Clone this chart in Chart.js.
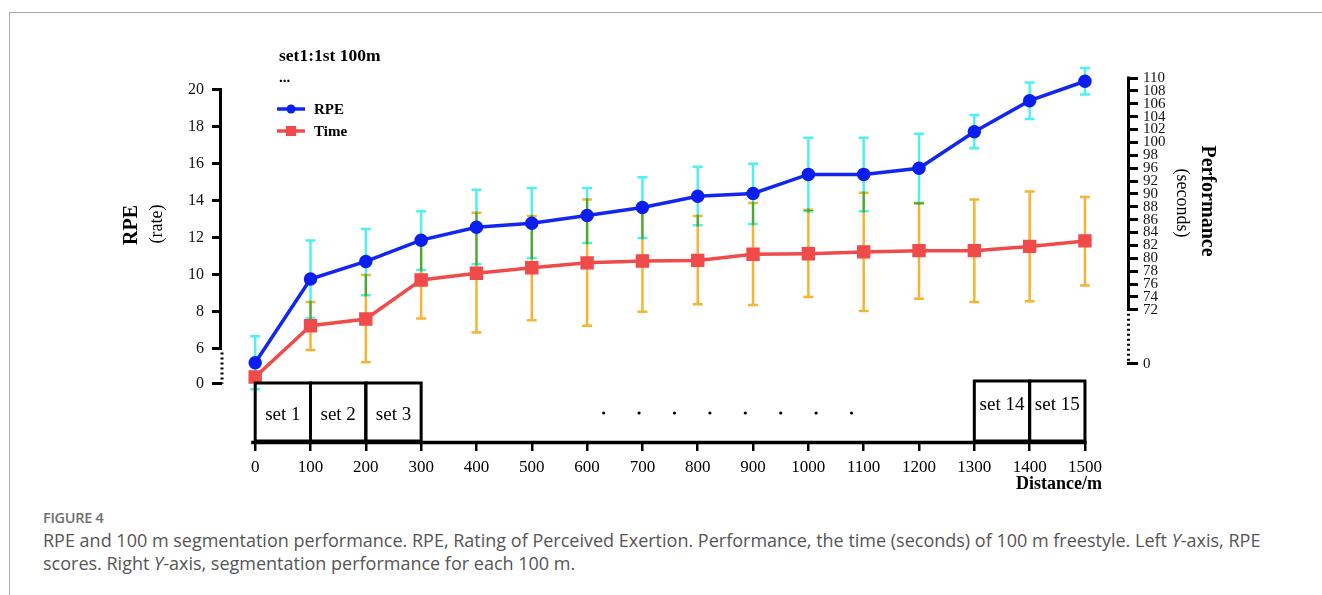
<!DOCTYPE html>
<html>
<head>
<meta charset="utf-8">
<script src="https://cdn.jsdelivr.net/npm/chart.js@4.4.1/dist/chart.umd.min.js"></script>
<style>
  html, body { margin: 0; padding: 0; background: #fff; }
  body { width: 1322px; height: 595px; position: relative; overflow: hidden; }
  #frame { position: absolute; left: 9px; top: 12px; width: 1320px; height: 600px;
           border-left: 1px solid #a8a8a8; border-top: 1px solid #a8a8a8; }
  #wrap { position: absolute; left: 0; top: 0; width: 1322px; height: 500px; }
  #figno { position: absolute; left: 43px; top: 508px; font-family: "Open Sans", sans-serif;
           font-size: 14.5px; font-weight: 600; color: #707070; letter-spacing: -0.3px; }
  #caption { position: absolute; left: 43px; top: 529px; font-family: "Open Sans", sans-serif;
             font-size: 18px; line-height: 23px; color: #555; letter-spacing: 0; white-space: nowrap; }
</style>
</head>
<body>
<div id="frame"></div>
<div id="wrap"><canvas id="myChart" width="1322" height="500"></canvas></div>
<div id="figno">FIGURE 4</div>
<div id="caption">RPE and 100 m segmentation performance. RPE, Rating of Perceived Exertion. Performance, the time (seconds) of 100 m freestyle. Left <i>Y</i>-axis, RPE<br>scores. Right <i>Y</i>-axis, segmentation performance for each 100 m.</div>
<script>
// distance (m) for each point
var distances = [0, 100, 200, 300, 400, 500, 600, 700, 800, 900, 1000, 1100, 1200, 1300, 1400, 1500];

// RPE (left axis) with error bar ends
var rpe     = [5.24, 9.77, 10.72, 11.87, 12.57, 12.79, 13.21, 13.64, 14.25, 14.40, 15.43, 15.43, 15.76, 17.74, 19.42, 20.47];
var rpeHigh = [6.67, 11.85, 12.48, 13.43, 14.60, 14.69, 14.70, 15.27, 15.84, 16.01, 17.41, 17.41, 17.63, 18.64, 20.40, 21.19];
var rpeLow  = [3.80, 7.64, 8.89, 10.26, 10.57, 10.91, 11.72, 11.99, 12.68, 12.74, 13.44, 13.44, 13.86, 16.84, 18.43, 19.75];

// Time in seconds (right axis) with error bar ends
var time     = [61.0, 69.4, 70.5, 76.9, 78.0, 78.9, 79.7, 80.0, 80.1, 81.1, 81.2, 81.5, 81.7, 81.7, 82.4, 83.3];
var timeHigh = [null, 73.3, 77.7, 83.2, 87.9, 87.4, 90.1, 89.4, 87.4, 89.5, 88.4, 91.2, 89.5, 90.1, 91.4, 90.5];
var timeLow  = [null, 65.4, 63.4, 70.6, 68.3, 70.3, 69.4, 71.7, 72.9, 72.8, 74.1, 71.8, 73.8, 73.3, 73.4, 76.0];

// axis ticks (first tick of each y axis sits below the break)
var rpeTicks = [4.1, 6, 8, 10, 12, 14, 16, 18, 20];
var rpeTickLabels = ['0', '6', '8', '10', '12', '14', '16', '18', '20'];
var timeTicks = [63.15, 72, 74.11, 76.22, 78.33, 80.44, 82.56, 84.67, 86.78, 88.89, 91, 93.11, 95.22, 97.33, 99.44, 101.56, 103.67, 105.78, 107.89, 110];
var timeTickLabels = ['0', '72', '74', '76', '78', '80', '82', '84', '86', '88', '90', '92', '96', '98', '100', '102', '104', '106', '108', '110'];

// segment boxes under the curve
var leftSets = [['set 1', 0, 100], ['set 2', 100, 200], ['set 3', 200, 300]];
var rightSets = [['set 14', 1300, 1400], ['set 15', 1400, 1500]];
var gapDots = [630, 694, 758, 822, 886, 950, 1014, 1078];

var SERIF = '"Liberation Serif", "Times New Roman", serif';

function pts(ys) {
  return distances.map(function(d, i) { return {x: d, y: ys[i]}; });
}

function text(ctx, s, x, y, font, align, rot) {
  ctx.save();
  ctx.translate(x, y);
  if (rot) ctx.rotate(rot);
  ctx.font = font;
  ctx.fillStyle = '#000';
  ctx.textAlign = align || 'center';
  ctx.textBaseline = 'middle';
  ctx.fillText(s, 0, 0);
  ctx.restore();
}

var decor = {
  id: 'decor',
  beforeDatasetsDraw: function(chart) {
    var ctx = chart.ctx;
    ctx.save();
    ctx.globalCompositeOperation = 'multiply';
    chart.data.datasets.forEach(function(ds, i) {
      var meta = chart.getDatasetMeta(i);
      var ys = chart.scales[ds.yAxisID];
      ctx.strokeStyle = ds.errColor;
      ctx.lineWidth = 2.5;
      meta.data.forEach(function(p, j) {
        if (ds.errHigh[j] == null) return;
        var y1 = ys.getPixelForValue(ds.errHigh[j]);
        var y2 = ys.getPixelForValue(ds.errLow[j]);
        ctx.beginPath();
        ctx.moveTo(p.x, y1); ctx.lineTo(p.x, y2);
        ctx.moveTo(p.x - 5, y1); ctx.lineTo(p.x + 5, y1);
        ctx.moveTo(p.x - 5, y2); ctx.lineTo(p.x + 5, y2);
        ctx.stroke();
      });
    });
    ctx.restore();
  },
  afterDraw: function(chart) {
    var ctx = chart.ctx, a = chart.chartArea;
    var x = chart.scales.x, y = chart.scales.y, y2 = chart.scales.y2;
    ctx.save();
    ctx.strokeStyle = '#000';

    // left axis: solid down to 6, dotted across the break
    var lx = a.left - 1.5;
    ctx.lineWidth = 3;
    ctx.beginPath();
    ctx.moveTo(lx, y.getPixelForValue(20) - 1.5); ctx.lineTo(lx, y.getPixelForValue(6) + 1);
    ctx.stroke();
    ctx.setLineDash([2, 3]);
    ctx.beginPath();
    ctx.moveTo(lx + 1.5, y.getPixelForValue(6) + 4); ctx.lineTo(lx + 1.5, y.getPixelForValue(rpeTicks[0]));
    ctx.stroke();
    ctx.setLineDash([]);

    // right axis
    var rx = a.right + 1.5;
    ctx.beginPath();
    ctx.moveTo(rx, y2.getPixelForValue(110) - 1.5); ctx.lineTo(rx, y2.getPixelForValue(72) + 1);
    ctx.stroke();
    ctx.setLineDash([2, 3]);
    ctx.beginPath();
    ctx.moveTo(rx, y2.getPixelForValue(72) + 4); ctx.lineTo(rx, y2.getPixelForValue(timeTicks[0]));
    ctx.stroke();
    ctx.setLineDash([]);

    // x axis line
    var by = a.bottom + 1.5;
    ctx.lineWidth = 3.5;
    ctx.beginPath();
    ctx.moveTo(x.getPixelForValue(0) - 4, by); ctx.lineTo(x.getPixelForValue(1500) + 1.5, by);
    ctx.stroke();

    // set boxes
    ctx.lineWidth = 3;
    leftSets.forEach(function(s) {
      var x1 = x.getPixelForValue(s[1]), x2 = x.getPixelForValue(s[2]);
      ctx.strokeRect(x1, a.bottom - 58, x2 - x1, 58);
      text(ctx, s[0], (x1 + x2) / 2, a.bottom - 26, '19px ' + SERIF);
    });
    rightSets.forEach(function(s) {
      var x1 = x.getPixelForValue(s[1]), x2 = x.getPixelForValue(s[2]);
      ctx.strokeRect(x1, a.bottom - 60, x2 - x1, 60);
      text(ctx, s[0], (x1 + x2) / 2, a.bottom - 36, '19px ' + SERIF);
    });
    ctx.fillStyle = '#000';
    gapDots.forEach(function(d) {
      ctx.beginPath();
      ctx.arc(x.getPixelForValue(d), a.bottom - 28, 1.6, 0, Math.PI * 2);
      ctx.fill();
    });

    // axis titles
    text(ctx, 'RPE', 132, 225, 'bold 20px ' + SERIF, 'center', -Math.PI / 2);
    text(ctx, '(rate)', 157, 224, '18px ' + SERIF, 'center', -Math.PI / 2);
    text(ctx, 'Performance', 1207, 201, 'bold 20px ' + SERIF, 'center', Math.PI / 2);
    text(ctx, '(seconds)', 1182, 203, '18px ' + SERIF, 'center', Math.PI / 2);
    text(ctx, 'Distance/m', 1102, 484, 'bold 18px ' + SERIF, 'right');

    // header and legend
    text(ctx, 'set1:1st 100m', 279, 56, 'bold 17.5px ' + SERIF, 'left');
    text(ctx, '...', 279, 78, 'bold 15px ' + SERIF, 'left');
    chart.data.datasets.forEach(function(ds, i) {
      var ly = 109 + i * 22;
      ctx.strokeStyle = ds.borderColor;
      ctx.fillStyle = ds.pointBackgroundColor;
      ctx.lineWidth = 3.5;
      ctx.beginPath();
      ctx.moveTo(277, ly); ctx.lineTo(305, ly);
      ctx.stroke();
      if (ds.pointStyle === 'rect') {
        ctx.fillRect(286, ly - 5, 10, 10);
      } else {
        ctx.beginPath();
        ctx.arc(291, ly, 4.5, 0, Math.PI * 2);
        ctx.fill();
      }
      text(ctx, ds.label, 314, ly + 1, 'bold 15px ' + SERIF, 'left');
    });
    ctx.restore();
  }
};

var ctx = document.getElementById('myChart').getContext('2d');
var myChart = new Chart(ctx, {
  type: 'line',
  data: {
    datasets: [{
      label: 'RPE',
      data: pts(rpe),
      yAxisID: 'y',
      borderColor: '#1126f0',
      backgroundColor: '#0a1eee',
      pointBackgroundColor: '#0a1eee',
      pointBorderColor: '#0a1eee',
      pointRadius: 5,
      borderWidth: 3.5,
      errHigh: rpeHigh,
      errLow: rpeLow,
      errColor: 'rgb(80, 240, 240)'
    },
    {
      label: 'Time',
      data: pts(time),
      yAxisID: 'y2',
      borderColor: '#f04a4a',
      backgroundColor: '#f04a4a',
      pointBackgroundColor: '#f04a4a',
      pointBorderColor: '#f04a4a',
      pointStyle: 'rect',
      pointRadius: 7,
      borderWidth: 3.5,
      errHigh: timeHigh,
      errLow: timeLow,
      errColor: 'rgb(245, 180, 50)'
    }]
  },
  options: {
    responsive: false,
    animation: false,
    devicePixelRatio: 1,
    layout: { padding: { top: 53, bottom: 0, left: 0, right: 0 } },
    plugins: { legend: { display: false }, tooltip: { enabled: false } },
    scales: {
      x: {
        type: 'linear',
        min: -60,
        max: 1576,
        afterFit: function(s) { s.height = 59; },
        afterBuildTicks: function(s) { s.ticks = distances.map(function(v) { return {value: v}; }); },
        border: { display: false },
        grid: { drawOnChartArea: false, drawTicks: true, tickLength: 10, lineWidth: 2.5, color: '#000' },
        ticks: {
          autoSkip: false, maxRotation: 0, padding: 6, color: '#000',
          font: { family: SERIF, size: 17 },
          callback: function(v) { return String(v); }
        }
      },
      y: {
        position: 'left',
        min: 1,
        max: 22,
        afterFit: function(s) { s.width = 222; },
        afterBuildTicks: function(s) { s.ticks = rpeTicks.map(function(v) { return {value: v}; }); },
        border: { display: false },
        grid: { drawOnChartArea: false, drawTicks: true, tickLength: 10, lineWidth: 3, color: '#000' },
        ticks: {
          autoSkip: false, padding: 8, color: '#111',
          font: { family: SERIF, size: 16 },
          callback: function(v, i) { return rpeTickLabels[i]; }
        }
      },
      y2: {
        position: 'right',
        min: 50.5,
        max: 114.1,
        afterFit: function(s) { s.width = 195; },
        afterBuildTicks: function(s) { s.ticks = timeTicks.map(function(v) { return {value: v}; }); },
        border: { display: false },
        grid: { drawOnChartArea: false, drawTicks: true, tickLength: 11, lineWidth: 3, color: '#000' },
        ticks: {
          autoSkip: false, padding: 5, color: '#111',
          font: { family: SERIF, size: 15 },
          callback: function(v, i) { return timeTickLabels[i]; }
        }
      }
    }
  },
  plugins: [decor]
});
</script>
</body>
</html>
